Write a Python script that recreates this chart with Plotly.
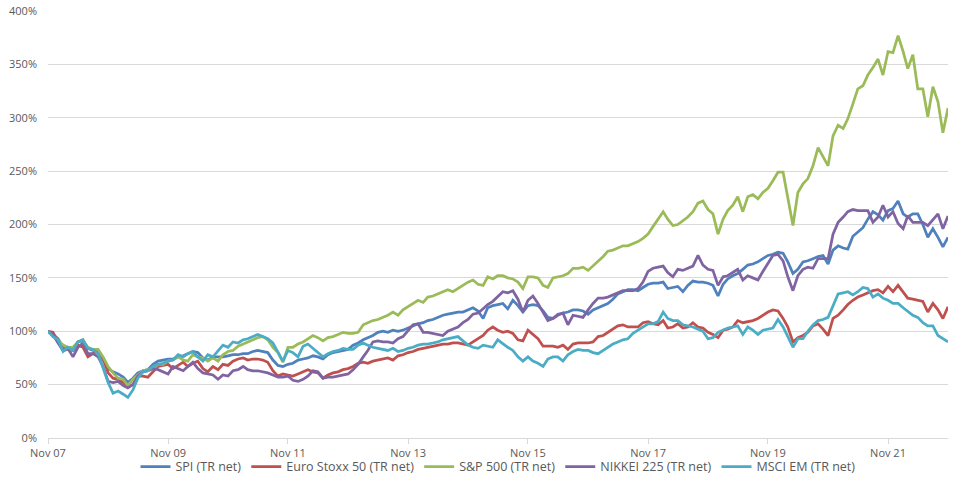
import pandas as pd
import plotly.graph_objects as go

# Monthly dates Nov 2007 .. Nov 2022
dates = pd.date_range("2007-11-01", periods=181, freq="MS")

tick_dates = ["2007-11-01", "2009-11-01", "2011-11-01", "2013-11-01", "2015-11-01",
              "2017-11-01", "2019-11-01", "2021-11-01"]
tick_labels = ["Nov 07", "Nov 09", "Nov 11", "Nov 13", "Nov 15", "Nov 17", "Nov 19", "Nov 21"]

spi = [100, 97, 93, 85, 84, 82, 90, 92, 84, 82, 81, 73, 65, 62, 60, 57, 52, 56, 61, 63,
       64, 69, 72, 73, 74, 74, 76, 77, 79, 81, 80, 75, 73, 76, 76, 76, 77, 78, 78, 79,
       79, 81, 82, 81, 80, 73, 68, 67, 69, 70, 73, 74, 75, 77, 76, 74, 78, 80, 81, 82,
       83, 87, 89, 92, 94, 96, 99, 100, 99, 101, 100, 101, 103, 105, 107, 108, 110, 111, 113, 115,
       116, 117, 118, 118, 120, 122, 119, 112, 122, 124, 125, 126, 121, 129, 124, 118, 124, 125, 124, 119,
       113, 112, 116, 117, 118, 120, 120, 119, 116, 120, 122, 124, 126, 130, 135, 137, 139, 139, 138, 141,
       144, 145, 145, 146, 140, 141, 142, 137, 143, 147, 146, 146, 145, 143, 133, 144, 149, 152, 154, 158,
       162, 163, 165, 168, 171, 172, 174, 173, 165, 154, 158, 165, 166, 168, 170, 171, 163, 176, 180, 178,
       177, 189, 193, 197, 205, 212, 209, 204, 213, 215, 222, 210, 207, 210, 210, 200, 188, 196, 188, 179,
       188]

euro = [100, 99, 90, 82, 83, 82, 87, 85, 76, 79, 82, 75, 61, 56, 55, 52, 48, 50, 58, 58,
        57, 62, 67, 68, 69, 65, 68, 71, 67, 70, 72, 65, 62, 67, 64, 69, 68, 72, 74, 75,
        73, 74, 74, 73, 71, 63, 58, 60, 59, 58, 60, 62, 64, 62, 61, 56, 59, 61, 62, 64,
        65, 67, 70, 71, 70, 72, 73, 74, 75, 73, 77, 78, 80, 81, 83, 84, 85, 86, 87, 88,
        88, 89, 89, 88, 87, 90, 93, 96, 101, 104, 101, 99, 100, 98, 92, 91, 101, 97, 93, 86,
        86, 86, 85, 87, 83, 88, 89, 89, 89, 90, 95, 96, 99, 102, 105, 106, 104, 104, 104, 108,
        109, 107, 106, 110, 103, 104, 107, 103, 104, 108, 104, 103, 99, 97, 94, 101, 102, 104, 110, 108,
        109, 110, 112, 115, 118, 120, 119, 112, 104, 90, 94, 96, 99, 105, 107, 102, 96, 112, 115, 120,
        125, 129, 132, 134, 136, 138, 139, 136, 142, 137, 143, 137, 131, 130, 129, 128, 118, 126, 120, 112,
        123]

sp500 = [100, 96, 92, 87, 85, 85, 90, 91, 85, 83, 83, 76, 67, 61, 56, 55, 49, 55, 59, 63,
         64, 65, 69, 69, 72, 73, 76, 73, 72, 78, 76, 75, 72, 75, 72, 78, 81, 82, 86, 88,
         90, 92, 94, 95, 92, 85, 80, 71, 85, 85, 88, 90, 93, 96, 94, 91, 94, 95, 97, 99,
         98, 98, 99, 106, 108, 110, 111, 113, 115, 118, 115, 120, 123, 126, 129, 127, 132, 133, 135, 137,
         139, 137, 140, 143, 146, 148, 144, 143, 151, 149, 152, 152, 150, 149, 146, 140, 151, 151, 150, 143,
         141, 150, 151, 152, 154, 159, 159, 160, 157, 161, 165, 170, 175, 176, 178, 180, 180, 182, 184, 187,
         191, 198, 205, 212, 205, 199, 200, 204, 207, 212, 220, 222, 214, 210, 191, 205, 213, 218, 226, 212,
         226, 228, 224, 230, 234, 241, 249, 249, 225, 199, 230, 238, 243, 255, 272, 263, 255, 283, 293, 290,
         299, 313, 327, 330, 340, 347, 355, 340, 362, 361, 377, 362, 346, 359, 327, 327, 301, 329, 315, 286,
         309]

nikkei = [100, 97, 89, 82, 84, 76, 85, 89, 79, 79, 76, 67, 53, 52, 53, 49, 47, 50, 58, 62,
          63, 65, 64, 62, 60, 67, 65, 63, 67, 71, 65, 61, 60, 59, 55, 59, 58, 63, 64, 67,
          64, 63, 63, 62, 61, 59, 57, 57, 58, 54, 53, 55, 58, 63, 62, 56, 57, 57, 58, 59,
          60, 64, 69, 76, 82, 90, 91, 90, 90, 89, 93, 95, 101, 106, 107, 99, 99, 98, 97, 96,
          100, 102, 104, 108, 111, 116, 117, 121, 125, 128, 132, 137, 136, 138, 130, 118, 129, 133, 126, 118,
          110, 112, 115, 117, 106, 115, 114, 113, 120, 126, 131, 131, 132, 134, 136, 138, 138, 138, 140, 146,
          156, 159, 160, 161, 155, 151, 158, 157, 159, 161, 171, 162, 158, 157, 143, 151, 152, 155, 158, 148,
          152, 150, 148, 156, 163, 171, 172, 166, 151, 138, 152, 158, 160, 159, 168, 168, 168, 191, 202, 207,
          212, 214, 213, 213, 213, 202, 207, 218, 207, 212, 201, 196, 208, 202, 202, 202, 199, 205, 210, 196,
          208]

msci_em = [100, 95, 92, 81, 85, 82, 90, 91, 84, 83, 79, 65, 52, 42, 44, 41, 38, 45, 56, 62,
           63, 67, 69, 70, 72, 73, 78, 76, 79, 81, 76, 72, 78, 76, 82, 87, 85, 90, 89, 92,
           93, 95, 97, 95, 93, 89, 80, 72, 82, 80, 76, 86, 88, 84, 80, 76, 79, 81, 82, 84,
           83, 83, 87, 89, 87, 85, 84, 83, 82, 84, 81, 82, 84, 85, 87, 88, 88, 89, 90, 92,
           93, 94, 95, 91, 87, 85, 84, 87, 86, 85, 92, 88, 85, 82, 76, 72, 76, 72, 70, 67,
           74, 76, 76, 72, 78, 81, 83, 82, 82, 80, 79, 82, 85, 88, 90, 92, 93, 98, 101, 104,
           107, 107, 109, 118, 112, 110, 110, 106, 105, 104, 102, 100, 93, 94, 99, 101, 103, 104, 105, 97,
           104, 101, 97, 101, 102, 103, 111, 104, 95, 85, 93, 93, 100, 106, 110, 111, 113, 124, 135, 136,
           137, 134, 137, 141, 140, 132, 135, 131, 129, 126, 126, 122, 119, 115, 113, 108, 105, 105, 96, 93,
           90]

series = [
    ("SPI (TR net)", spi, "#4F81BD"),
    ("Euro Stoxx 50 (TR net)", euro, "#C0504D"),
    ("S&P 500 (TR net)", sp500, "#9BBB59"),
    ("NIKKEI 225 (TR net)", nikkei, "#8064A2"),
    ("MSCI EM (TR net)", msci_em, "#4BACC6"),
]

fig = go.Figure()
for name, vals, color in series:
    fig.add_trace(go.Scatter(x=dates, y=vals, mode="lines", name=name,
                             line=dict(color=color, width=2.75)))

font_color = "#595959"
fig.update_layout(
    width=960, height=482,
    margin=dict(l=48, r=12, t=11, b=44, autoexpand=False),
    paper_bgcolor="white", plot_bgcolor="white",
    font=dict(family="Open Sans, Liberation Sans, Arial", size=11, color=font_color),
    showlegend=True,
    legend=dict(orientation="h", x=0.5, xanchor="center", y=-0.103, yanchor="bottom",
                font=dict(size=12.5, color=font_color), itemwidth=30,
                bgcolor="rgba(0,0,0,0)", tracegroupgap=0),
    xaxis=dict(
        range=[dates[0], dates[-1]],
        tickvals=tick_dates, ticktext=tick_labels,
        showgrid=False, zeroline=False,
        showline=True, linecolor="#D9D9D9", linewidth=1,
        ticks="outside", ticklen=5, tickcolor="#D9D9D9",
        tickfont=dict(size=11, color=font_color),
    ),
    yaxis=dict(
        range=[0, 400], dtick=50, ticksuffix="%",
        showgrid=True, gridcolor="#D9D9D9", gridwidth=1,
        zeroline=False, showline=False,
        tickfont=dict(size=11, color=font_color),
        ticklabelstandoff=10,
    ),
)

fig.write_html("out.html")
